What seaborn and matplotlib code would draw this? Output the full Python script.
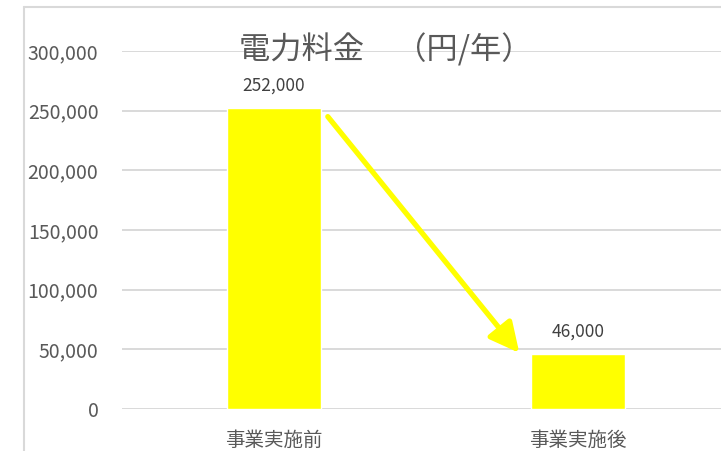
import matplotlib
matplotlib.use("Agg")
import matplotlib.pyplot as plt
import seaborn as sns
import pandas as pd
from matplotlib.lines import Line2D

categories = ["事業実施前", "事業実施後"]
values = [252000, 46000]
value_labels = ["252,000", "46,000"]
yticks = [0, 50000, 100000, 150000, 200000, 250000, 300000]
ytick_labels = ["0", "50,000", "100,000", "150,000", "200,000", "250,000", "300,000"]
title = "電力料金　（円/年）"

sns.set_theme(style="white")
plt.rcParams['font.family'] = ['Noto Sans CJK JP', 'DejaVu Sans']

W, H = 721, 451
fig = plt.figure(figsize=(W / 100, H / 100), dpi=100)
left, right, bottom, top = 122, 730, 409, 51
ax = fig.add_axes([left / W, (H - bottom) / H, (right - left) / W, (bottom - top) / H])
ax.patch.set_visible(False)

df = pd.DataFrame({"cat": categories, "val": values})
bar_w = 0.31
sns.barplot(data=df, x="cat", y="val", color="#FFFF00", saturation=1, width=bar_w, ax=ax, zorder=3)

ax.set_ylim(0, 300000)
ax.set_xlim(-0.5, 1.5)
ax.set_yticks(yticks)
ax.set_yticklabels(ytick_labels, fontsize=14, color="#595959")
ax.tick_params(axis="y", length=0, pad=17)
ax.tick_params(axis="x", length=0, pad=15, labelsize=14, labelcolor="#595959")
ax.set_xlabel("")
ax.set_ylabel("")
ax.grid(axis="y", color="#d9d9d9", linewidth=1.4, zorder=0)
ax.grid(axis="x", visible=False)
for s in ax.spines.values():
    s.set_visible(False)

# data labels
for i, (v, lab) in enumerate(zip(values, value_labels)):
    ax.annotate(lab, xy=(i, v), xytext=(0, 16), textcoords="offset points",
                ha="center", va="center", fontsize=12.5, color="#404040")

# title
ax.text(386 / W, (H - 50) / H, title, transform=fig.transFigure, ha="center", va="center",
        fontsize=22.5, color="#595959")

# arrow from first bar top to second bar top
ax.annotate("", xy=(1 - bar_w / 2 - 0.038, values[1] + 1000),
            xytext=(0 + bar_w / 2 + 0.022, values[0] - 7000),
            arrowprops=dict(arrowstyle="-|>,head_length=0.9,head_width=0.45", color="#FFFF00",
                            lw=3.8, shrinkA=0, shrinkB=0, mutation_scale=20), zorder=4)

# chart border (partially cropped)
fig.add_artist(Line2D([23.5 / W, 23.5 / W], [0, (H - 7) / H], transform=fig.transFigure,
                      color="#d9d9d9", lw=1.5))
fig.add_artist(Line2D([23.5 / W, 1.01], [(H - 7) / H, (H - 7) / H], transform=fig.transFigure,
                      color="#d9d9d9", lw=1.5))

fig.savefig("out.png", dpi=100)
